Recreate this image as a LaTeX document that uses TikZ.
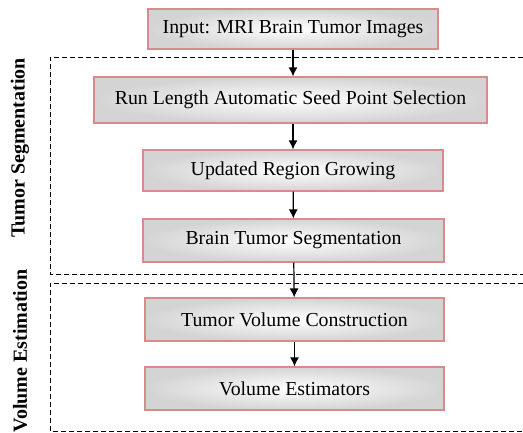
\documentclass[tikz,border=0pt]{standalone}
\usepackage{fontspec}
\setmainfont{Liberation Serif}
\usetikzlibrary{arrows.meta}
\definecolor{R}{RGB}{214, 140, 140}
\definecolor{G}{RGB}{212, 212, 212}

\tikzset{
	paso/.style={draw=R, line width=1.2pt, shading=radial, inner color=white, outer color=G, font=\fontsize{19.8}{22}\selectfont, inner sep=0pt},
	flecha/.style={-{Latex[length=9pt, width=9pt]}, line width=1.2pt},
	bloque/.style={line width=0.9pt, dash pattern=on 5pt off 3pt},
	etiqueta/.style={rotate=90, font=\fontsize{20}{23}\selectfont\bfseries}
}

\begin{document}
\begin{tikzpicture}[x=1pt, y=-1pt]
	\useasboundingbox (0,0) rectangle (523,432);

	%Bloques punteados (abiertos a la derecha)
	\draw[bloque] (523,57) -- (50,57) -- (50,274) -- (523,274);
	\draw[bloque] (523,283) -- (50,283) -- (50,431) -- (523,431);

	%Etiquetas laterales
	\node[etiqueta] (seg) at (20,148) {Tumor Segmentation};
	\node[etiqueta] (vol) at (20,351) {Volume Estimation};

	%Pasos del proceso
	\node[paso, minimum width=290pt, minimum height=40pt] (entrada) at (293,29) {Input: MRI Brain Tumor Images};
	\node[paso, minimum width=393pt, minimum height=46pt] (semilla) at (290.5,100) {Run Length Automatic Seed Point Selection};
	\node[paso, minimum width=300pt, minimum height=41pt] (region) at (293,170.5) {Updated Region Growing};
	\node[paso, minimum width=301pt, minimum height=43pt] (segm) at (293.5,240.5) {Brain Tumor Segmentation};
	\node[paso, minimum width=299pt, minimum height=43pt] (constr) at (294.5,319.5) {Tumor Volume Construction};
	\node[paso, minimum width=299pt, minimum height=43pt] (estim) at (294.5,388.5) {Volume Estimators};

	%Flechas
	\draw[flecha] (entrada.south -| 293,0) -- (semilla.north -| 293,0);
	\draw[flecha] (semilla.south -| 293,0) -- (region.north -| 293,0);
	\draw[flecha] (region) -- (segm);
	\draw[flecha] (segm) -- (constr);
	\draw[flecha] (constr) -- (estim);
\end{tikzpicture}
\end{document}
